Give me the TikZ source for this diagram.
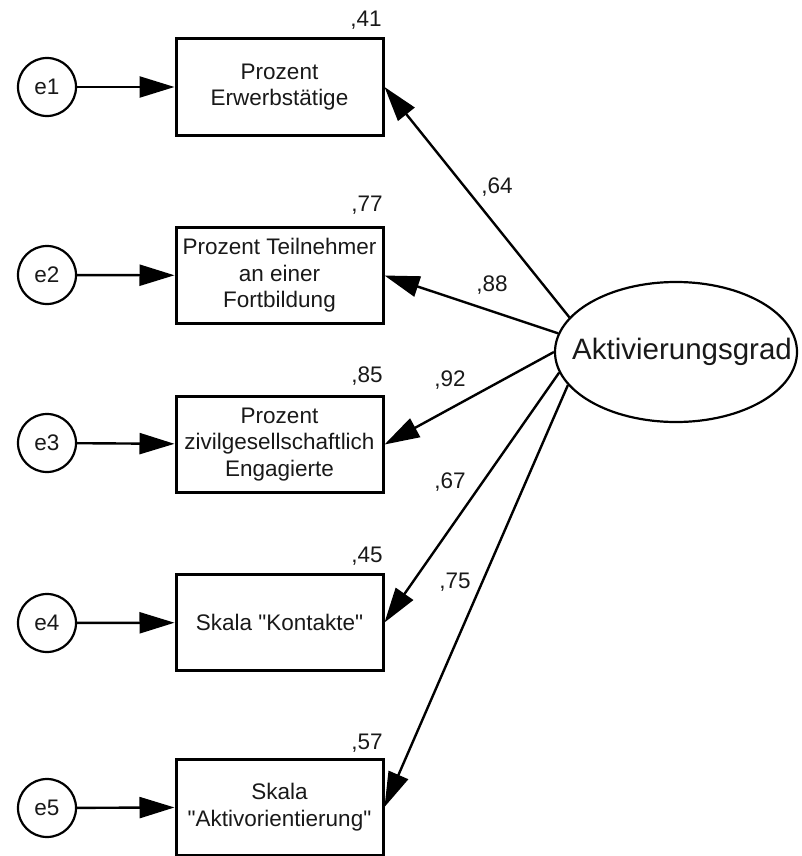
\documentclass[tikz,border=0pt]{standalone}
\usepackage{fontspec}
\setmainfont{Liberation Sans}[Ligatures=TeXOff]
\usetikzlibrary{arrows.meta,shapes.geometric}
\begin{document}
\begin{tikzpicture}[x=1pt,y=-1pt,
  every node/.style={font=\fontsize{22.5}{26.5}\selectfont, text=black!90},
  err/.style={draw, circle, line width=2.2pt, minimum size=58pt, inner sep=0pt, fill=white},
  obs/.style={draw, rectangle, line width=3pt, minimum width=207pt, minimum height=96pt, inner sep=0pt, align=center, fill=white},
  lat/.style={draw, ellipse, line width=2.2pt, minimum width=242pt, minimum height=140pt, inner sep=0pt, fill=white,
    label={[font=\fontsize{29.5}{32}\selectfont, text=black!90, xshift=6pt]center:Aktivierungsgrad}},
  arr/.style={line width=2.4pt, -{Triangle[length=35pt,width=21pt]}},
  lbl/.style={inner sep=0pt}
]
\useasboundingbox (0,0) rectangle (801,856);
\node[obs] (b1) at (279.5,87) {Prozent\\Erwerbstätige};
\node[obs] (b2) at (279.5,275.5) {Prozent Teilnehmer\\an einer\\Fortbildung};
\node[obs] (b3) at (279.5,444.5) {Prozent\\zivilgesellschaftlich\\Engagierte};
\node[obs] (b4) at (279.5,622.5) {Skala "Kontakte"};
\node[obs] (b5) at (279.5,807) {Skala\\"Aktivorientierung"};
\node[err] (e1) at (47,87) {e1};
\node[err] (e2) at (47,275) {e2};
\node[err] (e3) at (47,443) {e3};
\node[err] (e4) at (47,623) {e4};
\node[err] (e5) at (47,808) {e5};
\node[lat] (lat) at (676,352) {};
\draw[arr] (e1) -- (b1);
\draw[arr] (e2) -- (b2);
\draw[arr] (e3) -- (b3);
\draw[arr] (e4) -- (b4);
\draw[arr] (e5) -- (b5);
\draw[arr] (lat.162.5) -- (b1.east);
\draw[arr] (lat.171) -- (b2.east);
\draw[arr] (lat.180) -- (b3.east);
\draw[arr] (lat.190) -- (b4.east);
\draw[arr] (lat.197) -- (b5.east);
\node[lbl] (r1) at (366,20) {,41};
\node[lbl] (r2) at (367,205) {,77};
\node[lbl] (r3) at (367,376) {,85};
\node[lbl] (r4) at (367,556) {,45};
\node[lbl] (r5) at (367,743) {,57};
\node[lbl] (p1) at (497,187) {,64};
\node[lbl] (p2) at (492,285) {,88};
\node[lbl] (p3) at (450,380) {,92};
\node[lbl] (p4) at (450,482) {,67};
\node[lbl] (p5) at (455,582) {,75};
\end{tikzpicture}
\end{document}
